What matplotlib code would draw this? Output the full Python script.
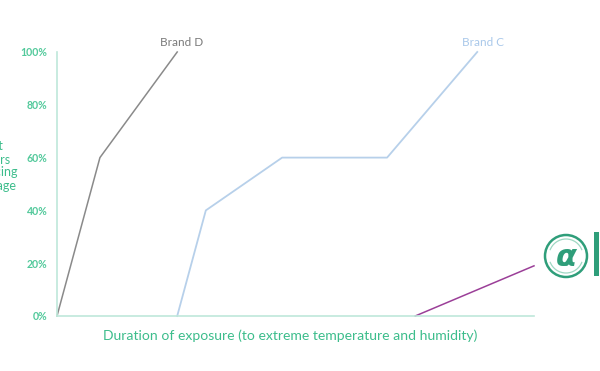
import matplotlib
matplotlib.use("Agg")
import matplotlib.pyplot as plt
from matplotlib.patches import Circle, Rectangle, Arc

# ---- data (x in arbitrary duration units, y in % of users damaged) ----
brand_d_x = [0.0, 0.90, 2.52]
brand_d_y = [0, 60, 100]
brand_c_x = [2.52, 3.12, 4.72, 6.92, 8.81]
brand_c_y = [0, 40, 60, 60, 100]
brand_a_x = [7.51, 10.0]
brand_a_y = [0, 19]
y_ticks = [0, 20, 40, 60, 80, 100]
y_tick_labels = ["0%", "20%", "40%", "60%", "80%", "100%"]

plt.rcParams['font.family'] = ['Lato', 'DejaVu Sans']

GREEN_TXT = "#52c99b"
AXIS_COL = "#bfe8da"

fig = plt.figure(figsize=(6.0, 3.71), dpi=100)
fig.patch.set_facecolor("white")
ax = fig.add_axes([57/600, 1-316/371, (534-57)/600, (316-52)/371])

ax.plot(brand_d_x, brand_d_y, color="#8a8a8a", lw=1.1, clip_on=False)
ax.plot(brand_c_x, brand_c_y, color="#b7d0ea", lw=1.3, clip_on=False)
ax.plot(brand_a_x, brand_a_y, color="#9b3f98", lw=1.1, clip_on=False)

ax.annotate("Brand D", (brand_d_x[-1], brand_d_y[-1]), xytext=(3, 6.5),
            textcoords="offset points", ha="center", va="center",
            color="#7a7a7a", fontsize=8.5)
ax.annotate("Brand C", (brand_c_x[-1], brand_c_y[-1]), xytext=(4, 6.5),
            textcoords="offset points", ha="center", va="center",
            color="#a9c8ea", fontsize=8.5)

ax.set_xlim(0, 10)
ax.set_ylim(0, 100)
ax.set_yticks(y_ticks)
ax.set_yticklabels(y_tick_labels)
ax.set_xticks([])
ax.tick_params(axis="y", length=0, pad=7, labelsize=7.6, labelcolor=GREEN_TXT)
for lab in ax.get_yticklabels():
    lab.set_fontweight("bold")
for s in ["top", "right"]:
    ax.spines[s].set_visible(False)
for s in ["left", "bottom"]:
    ax.spines[s].set_color(AXIS_COL)
    ax.spines[s].set_linewidth(1.2)
ax.set_facecolor("none")

fig.text(290/600, 1-336/371,
         "Duration of exposure (to extreme temperature and humidity)",
         ha="center", va="center", color="#3dbd8c", fontsize=10.1)

fig.text(18/600, 1-166/371, "Percent\nof owners\nexperiencing\nany damage",
         ha="right", va="center", multialignment="center",
         color="#3dbd8c", fontsize=9, linespacing=1.1)

# logo (partially cut at the right edge)
logo = "#2f9e7a"
fig.add_artist(Circle((566, 371-256), 21, transform=None, fill=False,
                      ec=logo, lw=1.8))
fig.add_artist(Arc((566, 371-256), 34, 34, theta1=20, theta2=160,
                   transform=None, ec="#9fd8c3", lw=0.9))
fig.add_artist(Arc((566, 371-256), 34, 34, theta1=200, theta2=340,
                   transform=None, ec="#9fd8c3", lw=0.9))
fig.text(566/600, 1-257/371, "α", ha="center", va="center", color=logo,
         fontsize=22, family="DejaVu Sans", style="italic", fontweight="bold")
fig.add_artist(Rectangle((594, 371-276), 5, 44, transform=None,
                         color=logo, lw=0))

fig.savefig("out.png", dpi=100, facecolor="white")
